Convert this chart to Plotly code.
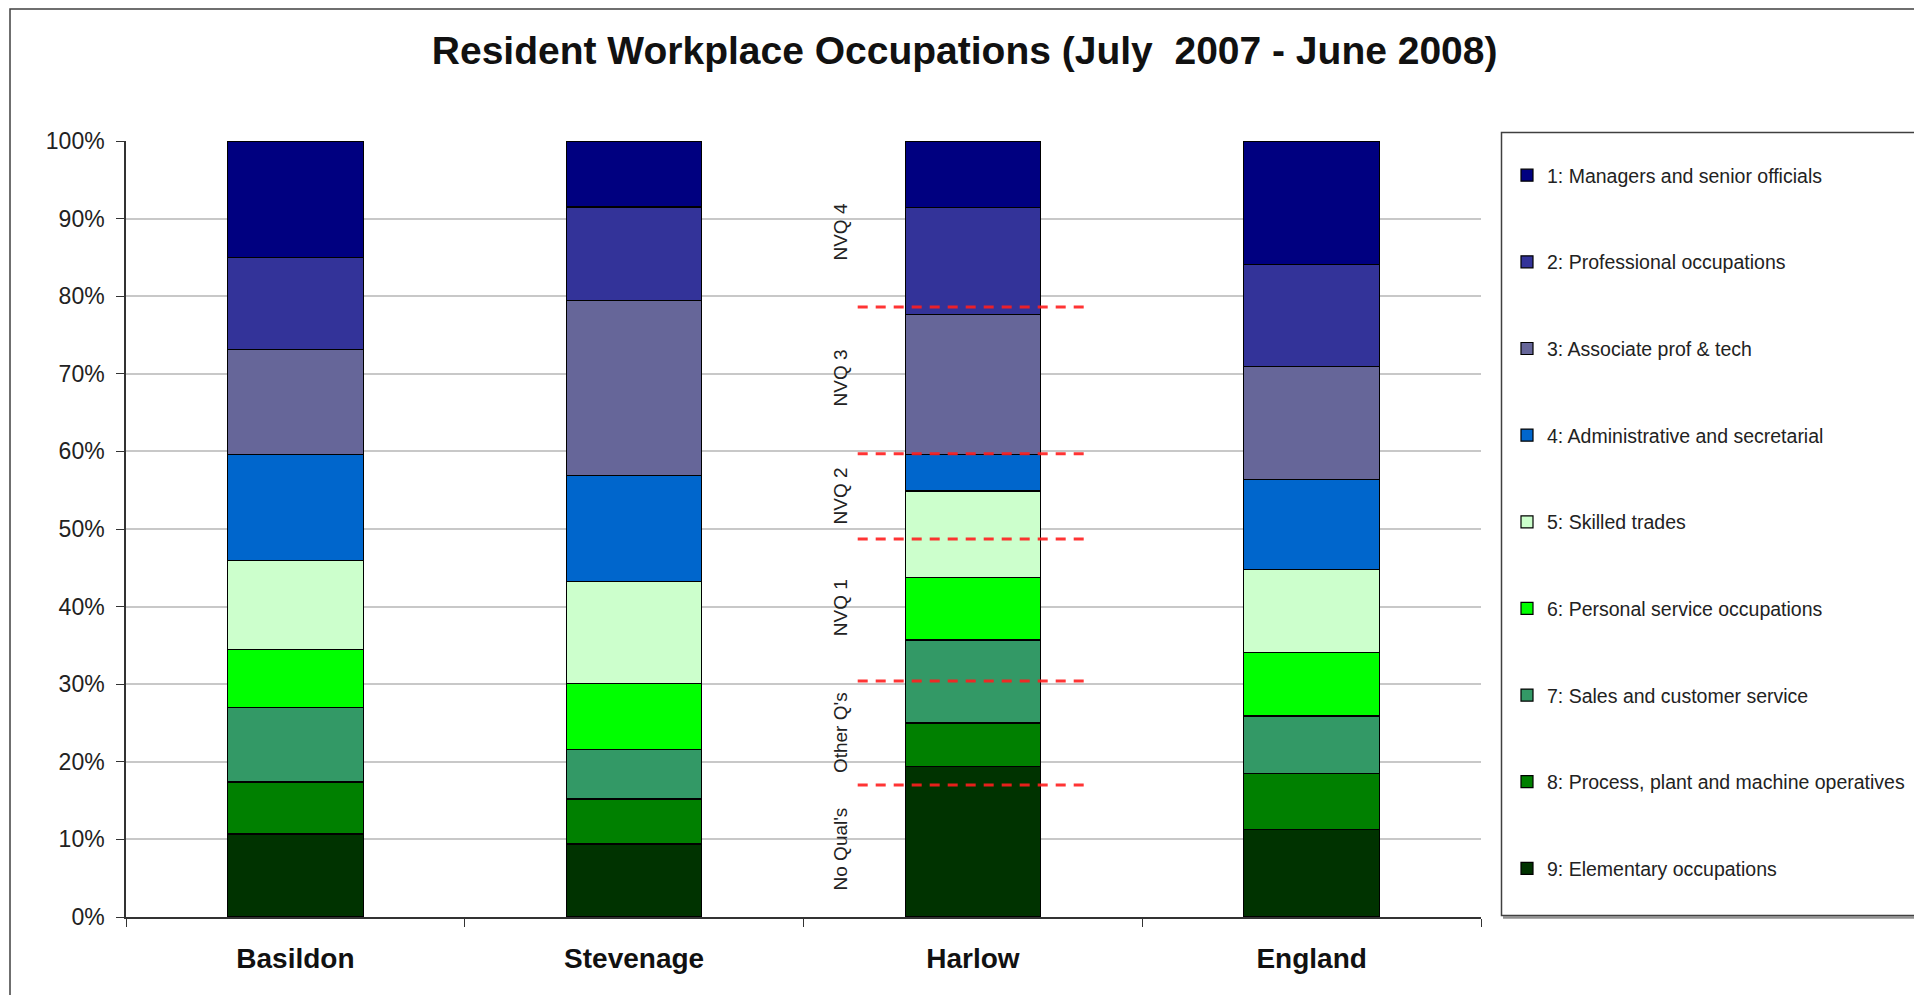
import plotly.graph_objects as go

# Share of residents in each occupation group (%), July 2007 - June 2008
areas = ["Basildon", "Stevenage", "Harlow", "England"]

occupations = [
    "1: Managers and senior officials",
    "2: Professional occupations",
    "3: Associate prof & tech",
    "4: Administrative and secretarial",
    "5: Skilled trades",
    "6: Personal service occupations",
    "7: Sales and customer service",
    "8: Process, plant and machine operatives",
    "9: Elementary occupations",
]

managers       = [15.0,  8.5,  8.6, 15.9]
professional   = [11.9, 12.1, 13.8, 13.2]
associate      = [13.5, 22.5, 18.0, 14.5]
administrative = [13.7, 13.7,  4.7, 11.6]
skilled        = [11.4, 13.1, 11.2, 10.7]
personal       = [ 7.5,  8.5,  8.0,  8.2]
sales          = [ 9.6,  6.4, 10.7,  7.4]
process        = [ 6.7,  5.8,  5.6,  7.2]
elementary     = [10.7,  9.4, 19.4, 11.3]

colors = ["#000080", "#333399", "#666699", "#0066CC", "#CCFFCC",
          "#00FF00", "#339966", "#008000", "#003300"]

# Qualification bands marked against the Harlow bar
band_levels = [78.6, 59.7, 48.7, 30.4, 17.0]
band_labels = ["NVQ 4", "NVQ 3", "NVQ 2", "NVQ 1", "Other Q's", "No Qual's"]
band_label_y = [88.3, 69.5, 54.3, 39.9, 23.8, 8.8]

series = [managers, professional, associate, administrative, skilled,
          personal, sales, process, elementary]

FONT = "Liberation Sans, Arial, sans-serif"

fig = go.Figure()
# stack from group 9 at the bottom up to group 1 at the top;
# the legend lists group 1 first
entries = list(enumerate(zip(occupations, series, colors), start=1))
for rank, (name, vals, col) in reversed(entries):
    fig.add_trace(go.Bar(
        x=areas, y=vals, name=name, legendgroup=name, legendrank=rank,
        marker=dict(color=col, line=dict(color="#000000", width=1.2)),
    ))

W, H = 1914, 995
L, R, T, B = 126, 433, 141, 78
pw, ph = W - L - R, H - T - B

def px_x(p):
    return (p - L) / pw

def px_y(p):
    return (H - B - p) / ph

shapes = []
# outer chart frame
shapes.append(dict(type="rect", xref="paper", yref="paper",
                   x0=px_x(10), x1=px_x(2100), y0=px_y(1200), y1=px_y(9),
                   line=dict(color="#404040", width=1.5), layer="below"))
# legend frame with a soft shadow on the bottom
shapes.append(dict(type="line", xref="paper", yref="paper",
                   x0=px_x(1503), x1=px_x(2100), y0=px_y(917.5), y1=px_y(917.5),
                   line=dict(color="#909090", width=2.5)))
shapes.append(dict(type="rect", xref="paper", yref="paper",
                   x0=px_x(1501.5), x1=px_x(2100), y0=px_y(915.5), y1=px_y(132.5),
                   line=dict(color="#404040", width=1.5)))
# dashed qualification boundaries
for lvl in band_levels:
    shapes.append(dict(type="line", xref="x", yref="y",
                       x0=1.66, x1=2.33, y0=lvl, y1=lvl,
                       line=dict(color="rgba(255,30,30,0.9)", width=3, dash="10px,8px"),
                       layer="above"))

annotations = []
for txt, yv in zip(band_labels, band_label_y):
    annotations.append(dict(x=1.61, y=yv, xref="x", yref="y", text=txt,
                            textangle=-90, showarrow=False,
                            font=dict(family=FONT, size=19, color="#222222"),
                            xanchor="center", yanchor="middle"))

fig.update_layout(
    width=W, height=H,
    margin=dict(l=L, r=R, t=T, b=B, autoexpand=False),
    paper_bgcolor="white", plot_bgcolor="white",
    barmode="stack", bargap=0.6,
    font=dict(family=FONT, color="#222222"),
    title=dict(text="<b>Resident Workplace Occupations (July  2007 - June 2008)</b>",
               x=0.504, xref="container", xanchor="center",
               y=1 - 50 / H, yref="container", yanchor="middle",
               font=dict(family=FONT, size=39, color="#111111")),
    legend=dict(x=px_x(1507), y=px_y(156), xanchor="left", yanchor="top",
                maxheight=1000,
                traceorder="grouped", tracegroupgap=58.3,
                bgcolor="rgba(0,0,0,0)", borderwidth=0,
                font=dict(family=FONT, size=19.5, color="#222222")),
    shapes=shapes,
    annotations=annotations,
    showlegend=True,
)

fig.update_xaxes(
    type="category", range=[-0.5, 3.5],
    showline=True, linecolor="#333333", linewidth=1.5,
    ticks="outside", tickson="boundaries", ticklen=8, tickcolor="#333333",
    tickfont=dict(family=FONT, size=28, color="#111111"),
    tickprefix="<b>", ticksuffix="</b>",
    ticklabelstandoff=16,
    showgrid=False,
)
fig.update_yaxes(
    range=[0, 100], dtick=10, ticksuffix="%",
    showline=True, linecolor="#333333", linewidth=1.5,
    ticks="outside", ticklen=8, tickcolor="#333333",
    tickfont=dict(family=FONT, size=23, color="#222222"),
    ticklabelstandoff=7,
    showgrid=True, gridcolor="#c8c8c8", gridwidth=1.5,
    zeroline=False,
)

fig.write_html("out.html")
